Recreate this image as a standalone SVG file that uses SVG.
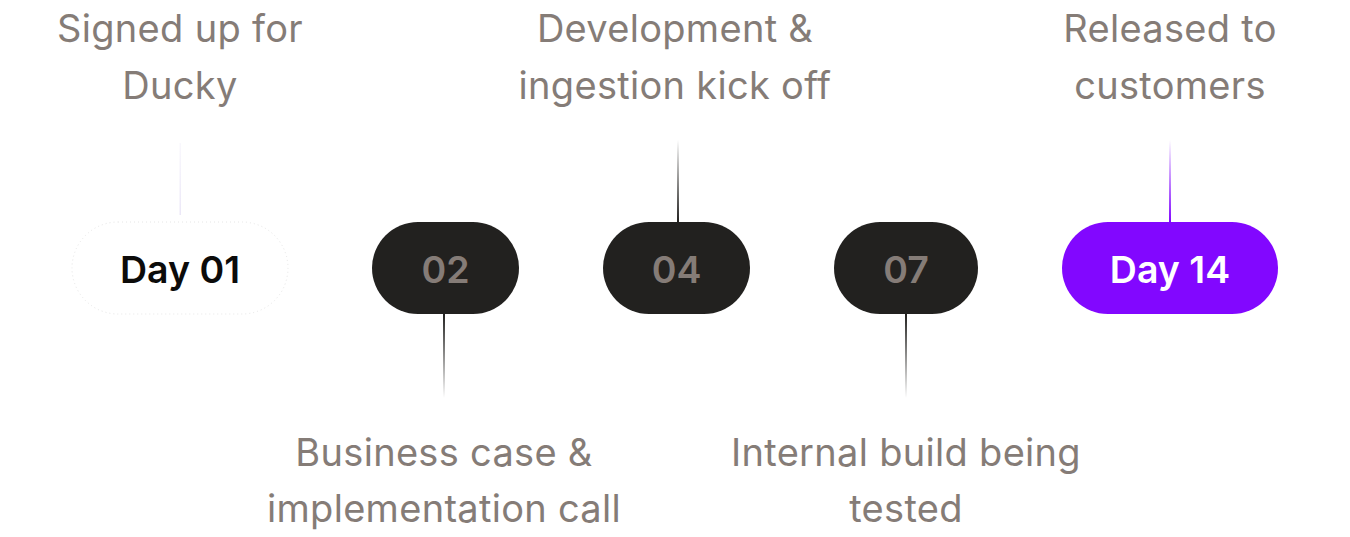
<svg xmlns="http://www.w3.org/2000/svg" width="1350" height="537" viewBox="0 0 1350 537">
<style>
.lbl{font-family:Inter,"Liberation Sans",sans-serif;font-size:38px;letter-spacing:0.3px;fill:#857c77;text-anchor:middle}
.pilltxt{font-family:Inter,"Liberation Sans",sans-serif;font-size:37.5px;font-weight:600;text-anchor:middle}
.dark{fill:#22211f}
</style>
<defs>
<linearGradient id="gUpDark" x1="0" y1="0" x2="0" y2="1">
<stop offset="0" stop-color="#22211f" stop-opacity="0"/>
<stop offset="1" stop-color="#22211f" stop-opacity="1"/>
</linearGradient>
<linearGradient id="gDownDark" x1="0" y1="0" x2="0" y2="1">
<stop offset="0" stop-color="#22211f" stop-opacity="1"/>
<stop offset="1" stop-color="#22211f" stop-opacity="0"/>
</linearGradient>
<linearGradient id="gUpPurple" x1="0" y1="0" x2="0" y2="1">
<stop offset="0" stop-color="#8207ff" stop-opacity="0"/>
<stop offset="1" stop-color="#8207ff" stop-opacity="1"/>
</linearGradient>
<linearGradient id="gUpFaint" x1="0" y1="0" x2="0" y2="1">
<stop offset="0" stop-color="#d8d0f0" stop-opacity="0.15"/>
<stop offset="1" stop-color="#d8d0f0" stop-opacity="0.5"/>
</linearGradient>
</defs>
<g id="connectors">
<rect x="179.5" y="143" width="1.5" height="72" fill="url(#gUpFaint)"/>
<rect x="443" y="314" width="2" height="84" fill="url(#gDownDark)"/>
<rect x="677" y="140" width="2" height="82" fill="url(#gUpDark)"/>
<rect x="905" y="314" width="2" height="84" fill="url(#gDownDark)"/>
<rect x="1169" y="140" width="2" height="82" fill="url(#gUpPurple)"/>
</g>
<g id="day01">
<rect x="72" y="222" width="216" height="92" rx="46" fill="#ffffff" stroke="#e6e6e6" stroke-width="1" stroke-dasharray="1 3"/>
<text class="pilltxt" x="180" y="283" fill="#0c0b0a">Day 01</text>
<text class="lbl" x="180" y="42">Signed up for</text>
<text class="lbl" x="180" y="99">Ducky</text>
</g>
<g id="day02">
<rect class="dark" x="372" y="222" width="147" height="92" rx="46"/>
<text class="pilltxt" x="445.5" y="283" fill="#857c77">02</text>
<text class="lbl" x="444" y="466">Business case &amp;</text>
<text class="lbl" x="444" y="522">implementation call</text>
</g>
<g id="day04">
<rect class="dark" x="603" y="222" width="147" height="92" rx="46"/>
<text class="pilltxt" x="676.5" y="283" fill="#857c77">04</text>
<text class="lbl" x="675" y="42">Development &amp;</text>
<text class="lbl" x="675" y="99">ingestion kick off</text>
</g>
<g id="day07">
<rect class="dark" x="834" y="222" width="144" height="92" rx="46"/>
<text class="pilltxt" x="906" y="283" fill="#857c77">07</text>
<text class="lbl" x="906" y="466">Internal build being</text>
<text class="lbl" x="906" y="522">tested</text>
</g>
<g id="day14">
<rect x="1062" y="222" width="216" height="92" rx="46" fill="#8207ff"/>
<text class="pilltxt" x="1170" y="283" fill="#ffffff">Day 14</text>
<text class="lbl" x="1170" y="42">Released to</text>
<text class="lbl" x="1170" y="99">customers</text>
</g>
</svg>
